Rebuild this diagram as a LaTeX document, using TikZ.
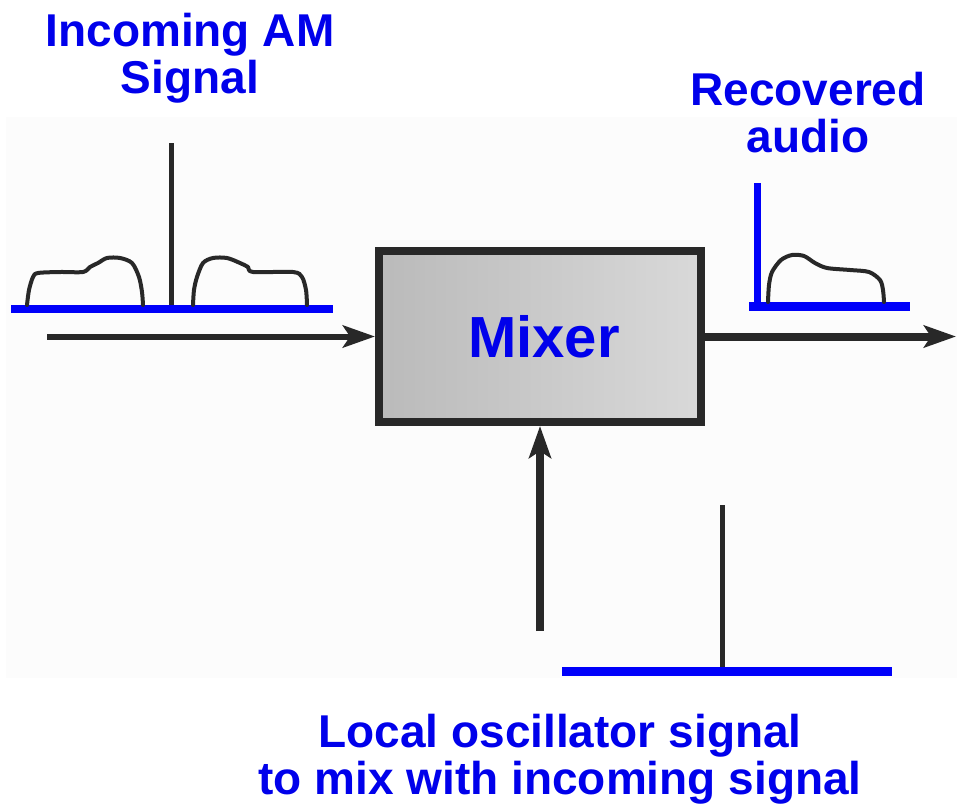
\documentclass[tikz,border=0pt]{standalone}
\usepackage{fontspec}
\setmainfont{Liberation Sans}
\usetikzlibrary{arrows.meta}
\definecolor{lblue}{RGB}{0,0,235}
\definecolor{sblue}{RGB}{0,0,250}
\definecolor{dark}{RGB}{40,40,40}
\begin{document}
\begin{tikzpicture}[x=1pt,y=-1pt,
  lbl/.style={text=lblue, font=\bfseries\fontsize{46}{47}\selectfont, align=center, inner sep=0pt},
  bar/.style={sblue, line width=8.5pt},
  spike/.style={dark, line width=5pt},
  env/.style={dark, line width=4pt, line join=round, line cap=round},
  flow/.style={dark, -{Stealth[length=32pt,width=22pt,inset=7pt]}},
]
\useasboundingbox (0,0) rectangle (957,803);
\fill[black!1] (6,117) rectangle (957,678);

% mixer box
\node[draw=dark, line width=8pt, left color=black!27, right color=black!15,
  minimum width=322pt, minimum height=171pt, inner sep=0pt, text=lblue,
  font=\bfseries\fontsize{58}{60}\selectfont] (mixer) at (540,336.5) {\hspace*{8pt}Mixer};

% connectors
\coordinate (inp) at (47,336.5);
\coordinate (outp) at (956,336.5);
\coordinate (lo) at (540,631);
\draw[flow, line width=6pt] (inp) -- (mixer.west);
\draw[flow, line width=8pt] (mixer.east) -- (outp);
\draw[flow, line width=8pt] (lo) -- (mixer.south);

% incoming AM spectrum
\draw[bar] (11,309) -- (333,309);
\draw[spike] (171,143) -- (171,305);
\draw[env] plot[smooth, tension=0.5] coordinates {(27,305) (29,290) (33,277) (38,273) (60,272) (83,272) (90,267) (98,263) (107,258) (120,258) (132,263) (139,277) (142,292) (143,305)};
\draw[env] plot[smooth, tension=0.5] coordinates {(193,305) (194,290) (197,277) (203,263) (213,258) (227,258) (240,263) (248,267) (253,272) (293,272) (302,277) (306,290) (307,305)};

% recovered audio spectrum
\draw[sblue, line width=7pt] (757,183) -- (757,306);
\draw[bar] (749,306.5) -- (910,306.5);
\draw[env] plot[smooth, tension=0.5] coordinates {(768,302) (769,285) (772,272) (781,260) (792,255) (804,256) (815,263) (827,268) (850,270) (869,272) (880,280) (883,290) (884,302)};

% local oscillator spectrum
\draw[spike] (722,505) -- (722,668);
\draw[bar] (562,671.5) -- (892,671.5);

% labels
\node[lbl] (inlbl) at (190,58) {Incoming AM\\Signal};
\node[lbl] (reclbl) at (808,113) {Recovered\\audio};
\node[lbl] (lolbl) at (560,759) {Local oscillator signal\\to mix with incoming signal};
\end{tikzpicture}
\end{document}
